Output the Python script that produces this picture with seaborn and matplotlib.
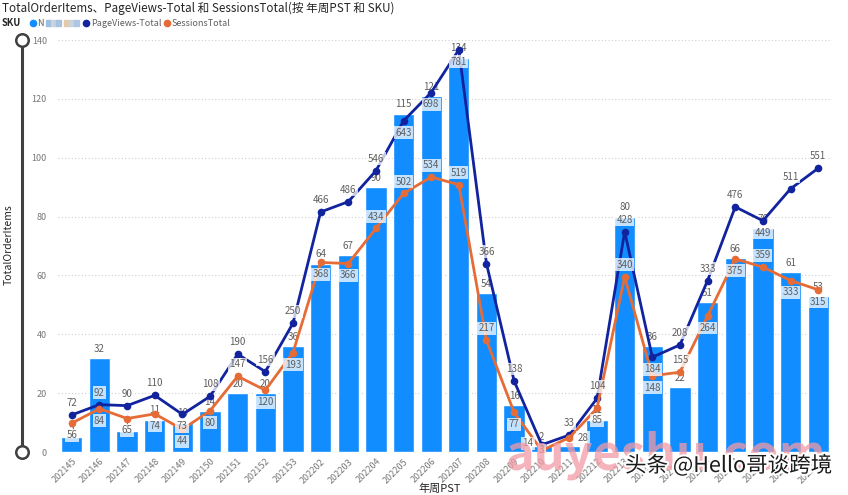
import numpy as np
import pandas as pd
import matplotlib.pyplot as plt
import seaborn as sns
import matplotlib.patheffects as pe
from matplotlib.lines import Line2D
from matplotlib.patches import Rectangle

# values
weeks = ['202145', '202146', '202147', '202148', '202149', '202150', '202151',
         '202152', '202153', '202202', '202203', '202204', '202205', '202206',
         '202207', '202208', '202209', '202210', '202211', '202212', '202213',
         '202214', '202215', '202216', '202217', '202218', '202219', '202220']
order_items = [5, 32, 7, 11, 10, 14, 20, 20, 36, 64, 67, 90, 115, 121,
               134, 54, 16, 2, 2, 11, 80, 36, 22, 51, 66, 76, 61, 53]
page_views = [72, 92, 90, 110, 73, 108, 190, 156, 250, 466, 486, 546, 643, 698,
              781, 366, 138, 14, 33, 104, 428, 184, 208, 333, 476, 449, 511, 551]
sessions = [56, 84, 65, 74, 44, 80, 147, 120, 193, 368, 366, 434, 502, 534,
            519, 217, 77, 3, 28, 85, 340, 148, 155, 264, 375, 359, 333, 315]

# where the line labels sit: a = above point, b = below, c = on the point,
# l / r = left / right of it
pv_pos = list('aaaabaaaaaaabbbaalaaabaaabaa')
ss_pos = list('bbbbbbabbbbaaaaabcrbababbabb')

BAR = '#118DFF'
NAVY = '#12239E'
ORANGE = '#E66C37'
GREY = '#605E5C'

sns.set_theme(style='white')
plt.rcParams['font.family'] = ['Noto Sans CJK SC', 'DejaVu Sans']

df = pd.DataFrame({'week': weeks, 'items': order_items,
                   'pv': page_views, 'ss': sessions})
df['pos'] = np.arange(len(df))

fig = plt.figure(figsize=(8.48, 4.95), dpi=100)
ax = fig.add_axes([58 / 848, 43 / 495, 774 / 848, 412 / 495])

sns.barplot(data=df, x='week', y='items', color=BAR, saturation=1,
            width=0.77, ax=ax, zorder=2)
ax.set_ylim(0, 140)
ax.set_yticks(range(0, 141, 20))
ax.yaxis.grid(True, linestyle=(0, (1, 2)), color='#D0D0D0', lw=0.8)
ax.set_axisbelow(True)
for s in ax.spines.values():
    s.set_visible(False)
ax.set_xlabel('')
ax.set_ylabel('')
ax.tick_params(axis='both', length=0, labelsize=6.5, labelcolor='#777777')
ax.tick_params(axis='y', pad=8)
ax.set_xticks(range(len(weeks)))
ax.set_xticklabels(weeks, rotation=45, ha='right', rotation_mode='anchor')

# bar totals
for i, v in enumerate(order_items):
    ax.annotate(str(v), (i, v), xytext=(0, 3), textcoords='offset points',
                ha='center', va='bottom', fontsize=7, color=GREY, zorder=5)

# lines on a hidden secondary scale
ax2 = ax.twinx()
sns.lineplot(data=df, x='pos', y='pv', ax=ax2, color=NAVY, lw=2,
             marker='o', markersize=5.5, markeredgewidth=0)
sns.lineplot(data=df, x='pos', y='ss', ax=ax2, color=ORANGE, lw=2,
             marker='o', markersize=5.5, markeredgewidth=0)
ax2.set_ylim(0, 800)
ax2.set_axis_off()
ax.set_xlim(-0.5, len(weeks) - 0.5)

box = dict(boxstyle='square,pad=0.15', fc='white', ec='none', alpha=0.75)
place = {'a': ((0, 5), 'bottom', 'center'), 'b': ((0, -5), 'top', 'center'),
         'c': ((0, 0), 'center', 'center'), 'l': ((-6, 1), 'center', 'right'),
         'r': ((6, 0), 'center', 'left')}
for i in range(len(weeks)):
    for val, p in ((page_views[i], pv_pos[i]), (sessions[i], ss_pos[i])):
        off, va, ha = place[p]
        ax2.annotate(str(val), (i, val), xytext=off, textcoords='offset points',
                     ha=ha, va=va, fontsize=7, color=GREY, bbox=box, zorder=6)

# title and legend row
fig.text(2 / 848, 1 - 8 / 495,
         'TotalOrderItems、PageViews-Total 和 SessionsTotal(按 年周PST 和 SKU)',
         fontsize=8.4, color='#252423', va='center')
ly = 1 - 23 / 495
fig.text(2 / 848, ly, 'SKU', fontsize=6.8, weight='bold', color='#252423', va='center')
fig.add_artist(Line2D([33 / 848], [ly], marker='o', ms=4.5, color=BAR,
                      transform=fig.transFigure))
fig.text(37 / 848, ly, 'N', fontsize=6.5, color=GREY, va='center')
mosaic = [(46, '#9EBFE0'), (51, '#C7D3DF'), (56, '#A8C3DE'),
          (64, '#E2CBAA'), (69, '#CAD4DD'), (74, '#AEC7E2')]
for mx, mc in mosaic:
    fig.add_artist(Rectangle((mx / 848, ly - 3 / 495), 5 / 848, 6 / 495,
                             color=mc, transform=fig.transFigure))
fig.add_artist(Line2D([86 / 848], [ly], marker='o', ms=4.5, color=NAVY,
                      transform=fig.transFigure))
fig.text(91 / 848, ly, 'PageViews-Total', fontsize=6.5, color=GREY, va='center')
fig.add_artist(Line2D([167 / 848], [ly], marker='o', ms=4.5, color=ORANGE,
                      transform=fig.transFigure))
fig.text(172 / 848, ly, 'SessionsTotal', fontsize=6.5, color=GREY, va='center')

# zoom slider and axis titles
sx = 22 / 848
fig.add_artist(Line2D([sx, sx], [1 - 40 / 495, 1 - 452 / 495], lw=2.2,
                      color='#404040', transform=fig.transFigure))
fig.add_artist(Line2D([sx, sx], [1 - 40 / 495, 1 - 452 / 495], lw=0, marker='o',
                      ms=9, mfc='white', mec='#404040', mew=1.8,
                      transform=fig.transFigure))
fig.text(9 / 848, 1 - 245 / 495, 'TotalOrderItems', rotation=90, fontsize=7.5,
         color='#252423', ha='center', va='center')
fig.text(440 / 848, 1 - 489 / 495, '年周PST', fontsize=8, color='#252423',
         ha='center', va='center')

# watermarks on the screenshot
fig.text(505 / 848, 1 - 470 / 495, 'auyeshu.com', fontsize=35, weight='bold',
         color='#F29AA5', alpha=0.75, va='baseline', zorder=10)
fig.text(625 / 848, 1 - 466 / 495, '头条 @Hello哥谈跨境', fontsize=15.5,
         color='#1A1A1A', va='center', zorder=11,
         path_effects=[pe.withStroke(linewidth=3, foreground='white')])

fig.savefig('out.png', dpi=100)
